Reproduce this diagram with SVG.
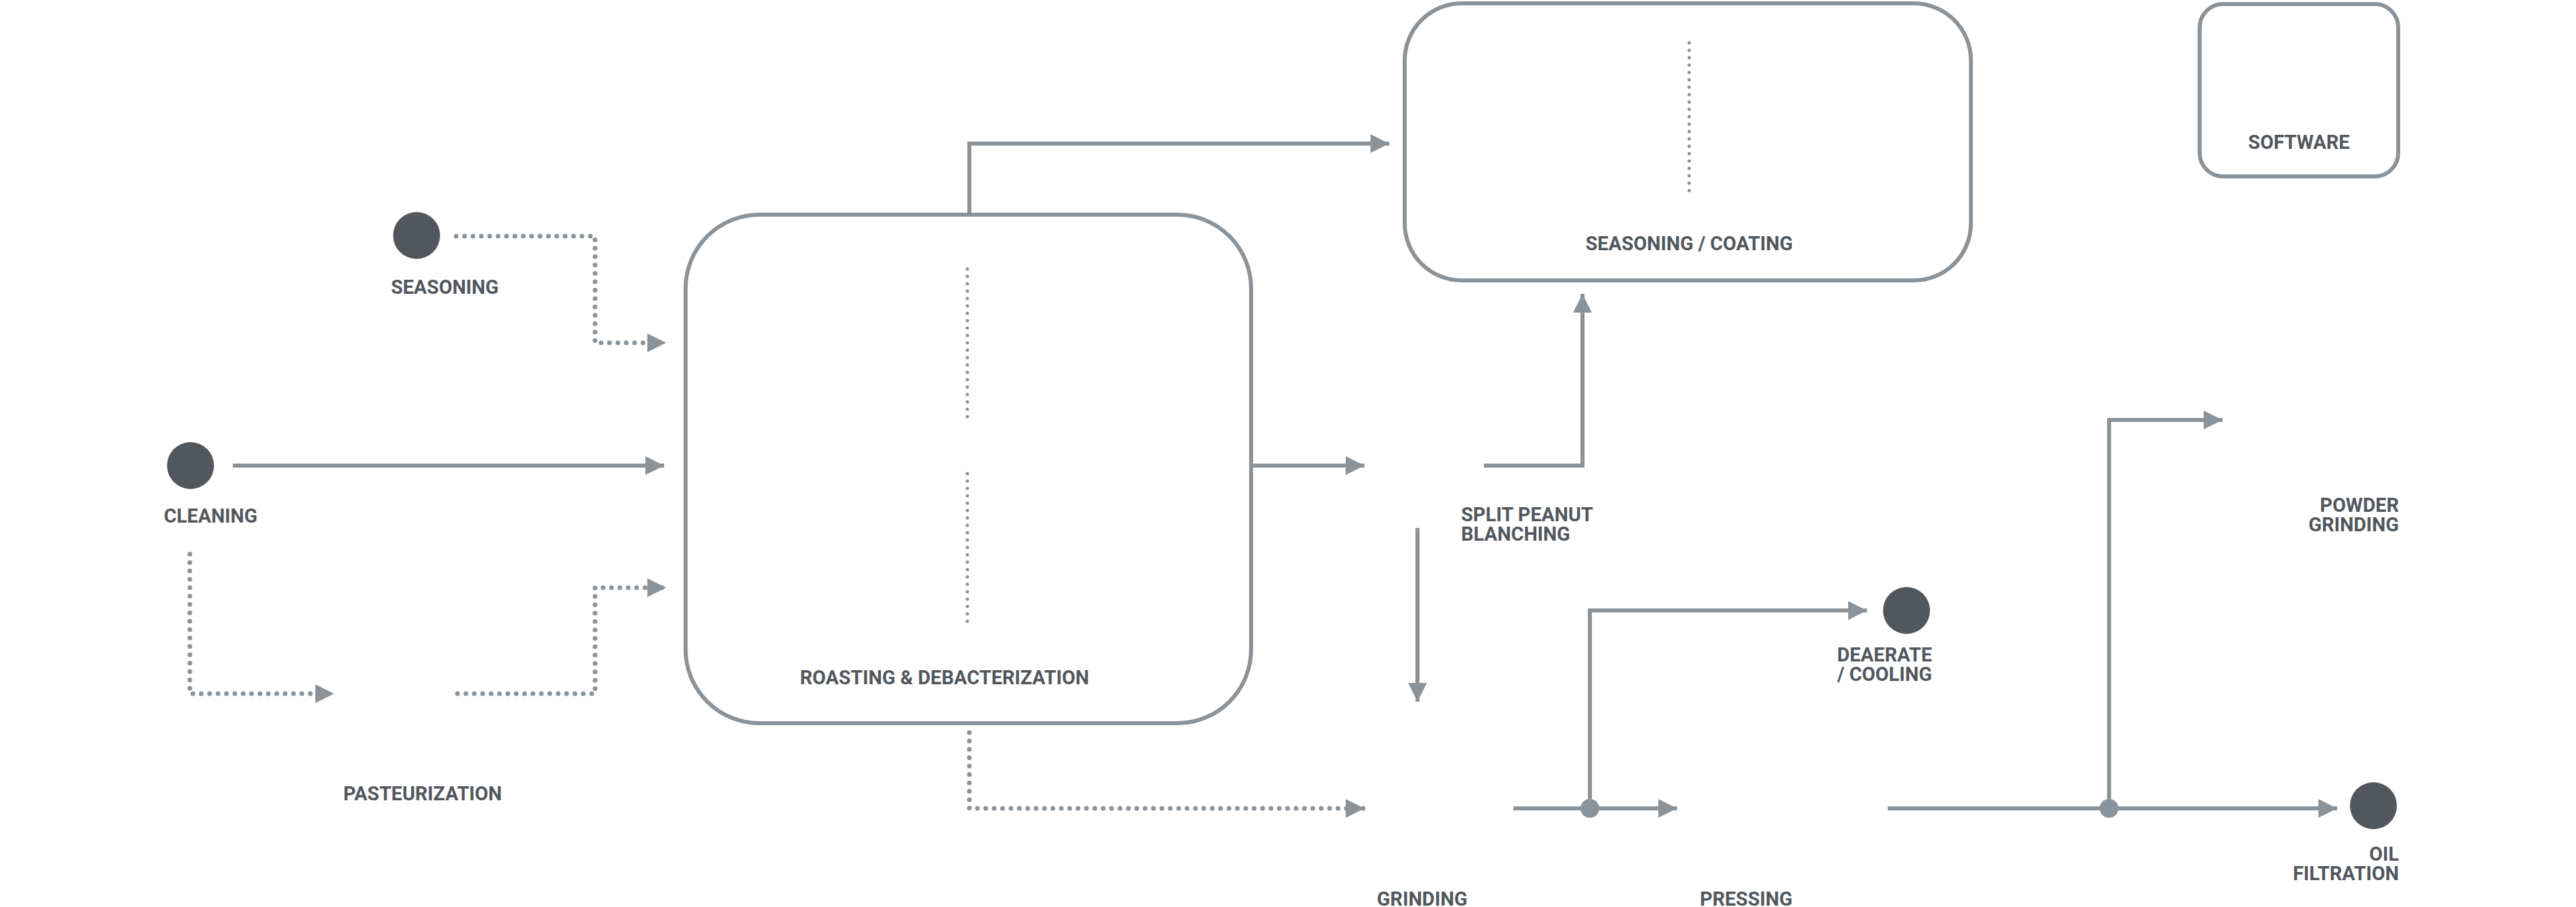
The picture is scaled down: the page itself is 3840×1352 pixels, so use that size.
<svg xmlns="http://www.w3.org/2000/svg" width="3840" height="1352" viewBox="0 0 3840 1352">
<style>
.box{fill:none;stroke:#8a939a;stroke-width:6}
.ln{fill:none;stroke:#8a939a;stroke-width:6}
.dot{fill:none;stroke:#8a939a;stroke-width:7;stroke-linecap:round;stroke-dasharray:0 12.5}
.idot{fill:none;stroke:#8a939a;stroke-width:5;stroke-linecap:round;stroke-dasharray:0 11}
.c{fill:#51575d}
.j{fill:#8a939a}
text{font-family:Roboto,"Liberation Sans",sans-serif;font-weight:700;font-size:29px;fill:#51575d}
</style>
<defs>
<marker id="a" markerUnits="userSpaceOnUse" markerWidth="30" markerHeight="30" refX="28" refY="14" orient="auto"><path d="M0,0 L28,14 L0,28 Z" fill="#8a939a"/></marker>
</defs>
<rect width="3840" height="1352" fill="#fff"/>
<g id="connectors">
<path class="dot" d="M680,352 H887 V511 H993" marker-end="url(#a)"/>
<path class="ln" d="M347,694 H990" marker-end="url(#a)"/>
<path class="dot" d="M283,826 V1034 H498" marker-end="url(#a)"/>
<path class="dot" d="M682,1034 H887 V876 H993" marker-end="url(#a)"/>
<path class="ln" d="M1445,318 V214 H2071" marker-end="url(#a)"/>
<path class="ln" d="M1862,694 H2034" marker-end="url(#a)"/>
<path class="ln" d="M2212,694 H2359 V438" marker-end="url(#a)"/>
<path class="ln" d="M2113,787 V1046" marker-end="url(#a)"/>
<path class="dot" d="M1445,1092 V1205 H2034" marker-end="url(#a)"/>
<path class="ln" d="M2256,1205 H2500" marker-end="url(#a)"/>
<path class="ln" d="M2370,1205 V910 H2783" marker-end="url(#a)"/>
<path class="ln" d="M2814,1205 H3484" marker-end="url(#a)"/>
<path class="ln" d="M3144,1205 V626 H3313" marker-end="url(#a)"/>
<circle class="j" cx="2370" cy="1205" r="14"/>
<circle class="j" cx="3144" cy="1205" r="14"/>
</g>
<g id="seasoning"><circle class="c" cx="621" cy="351" r="35"/><text x="663" y="438" text-anchor="middle">SEASONING</text></g>
<g id="cleaning"><circle class="c" cx="284" cy="694" r="35"/><text x="314" y="779" text-anchor="middle">CLEANING</text></g>
<g id="pasteurization"><text x="630" y="1193" text-anchor="middle">PASTEURIZATION</text></g>
<g id="roasting"><rect class="box" x="1022" y="320" width="843" height="758" rx="110"/>
<path class="idot" d="M1442,401 V623 M1442,706 V930"/>
<text x="1408" y="1020" text-anchor="middle">ROASTING &amp; DEBACTERIZATION</text></g>
<g id="seasoning-coating"><rect class="box" x="2094" y="5" width="844" height="413" rx="85"/>
<path class="idot" d="M2518,64 V288"/>
<text x="2518" y="373" text-anchor="middle">SEASONING / COATING</text></g>
<g id="software"><rect class="box" x="3279" y="6" width="296" height="257" rx="35"/><text x="3427" y="222" text-anchor="middle">SOFTWARE</text></g>
<g id="split"><text x="2178" y="777">SPLIT PEANUT</text><text x="2178" y="806">BLANCHING</text></g>
<g id="grinding"><text x="2120" y="1350" text-anchor="middle">GRINDING</text></g>
<g id="pressing"><text x="2603" y="1350" text-anchor="middle">PRESSING</text></g>
<g id="deaerate"><circle class="c" cx="2842" cy="910" r="35"/><text x="2880" y="986" text-anchor="end">DEAERATE</text><text x="2880" y="1015" text-anchor="end">/ COOLING</text></g>
<g id="powder"><text x="3576" y="763" text-anchor="end">POWDER</text><text x="3576" y="792" text-anchor="end">GRINDING</text></g>
<g id="oil"><circle class="c" cx="3538" cy="1201" r="35"/><text x="3576" y="1283" text-anchor="end">OIL</text><text x="3576" y="1312" text-anchor="end">FILTRATION</text></g>
</svg>
